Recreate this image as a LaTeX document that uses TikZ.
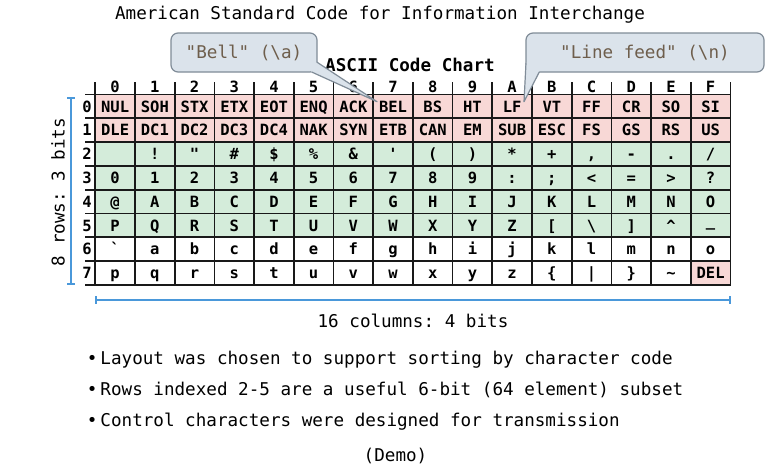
\documentclass[tikz,border=0pt]{standalone}
\usepackage{fontspec}
\setmonofont{DejaVu Sans Mono}
\usepackage{tikz}
\usetikzlibrary{arrows}
\usetikzlibrary{positioning}
\usetikzlibrary{calc}

\definecolor{ctrlpink}{RGB}{248,216,214}
\definecolor{printgreen}{RGB}{212,236,218}
\definecolor{calloutfill}{RGB}{219,227,235}
\definecolor{calloutline}{RGB}{128,140,152}
\definecolor{callouttext}{RGB}{110,94,76}
\definecolor{barblue}{RGB}{74,152,218}

\newcommand{\celltt}{\fontsize{15.5}{18}\selectfont\ttfamily\bfseries}
\newcommand{\bigtt}{\fontsize{17.6}{21}\selectfont\ttfamily}

\begin{document}
\begin{tikzpicture}
	[x=1pt,y=1pt,
	 cell/.style={rectangle,inner sep=0pt,outer sep=0pt,minimum width=39.7pt,minimum height=23.8pt,
	   text height=11.3pt,text depth=0pt,font=\celltt},
	 ctrl/.style={cell,fill=ctrlpink},
	 prnt/.style={cell,fill=printgreen},
	 plain/.style={cell},
	 idx/.style={inner sep=0pt,text height=11.3pt,text depth=0pt,font=\celltt},
	 grid/.style={line width=1.7pt,black!90,line cap=rect},
	 bar/.style={barblue,line width=1.2pt},
	 txt/.style={inner sep=0pt,font=\bigtt},
	 callbox/.style={rectangle,rounded corners=7pt,draw=calloutline,fill=calloutfill,line width=1.2pt,
	   outer sep=0pt,minimum width=146pt,minimum height=39pt,font=\bigtt,text=callouttext},
	 ptr/.style={fill=calloutfill},
	 ptrline/.style={draw=calloutline,line width=1.2pt,line join=round}]
	\useasboundingbox (0,0) rectangle (780,-469);
	\fill[white] (0,0) rectangle (780,-469);
	
	\node[txt,anchor=base] (title) at (380,-19.3) {American Standard Code for Information Interchange};
	\node[txt,anchor=base,font=\bigtt\bfseries] (chart) at (410,-71.7) {ASCII Code Chart};
	
	% column and row indices
	\foreach \t [count=\i from 0] in {0,1,2,3,4,5,6,7,8,9,A,B,C,D,E,F}
	\node[idx] (h\i) at ({115.15+39.7*\i},-87) {\t};
	\foreach \i in {0,...,7}
	\node[idx,anchor=east] (row\i) at (92,{-106.4-23.8*\i}) {\i};
	
	% the 128 codes
	\foreach \t [count=\i from 0] in {NUL,SOH,STX,ETX,EOT,ENQ,ACK,BEL,BS,HT,LF,VT,FF,CR,SO,SI}
	\node[ctrl] (r0c\i) at ({115.15+39.7*\i},-106.4) {\t};
	\foreach \t [count=\i from 0] in {DLE,DC1,DC2,DC3,DC4,NAK,SYN,ETB,CAN,EM,SUB,ESC,FS,GS,RS,US}
	\node[ctrl] (r1c\i) at ({115.15+39.7*\i},-130.2) {\t};
	\foreach \t [count=\i from 0] in {{},!,\textquotedbl,\#,\$,\%,\&,\textquotesingle,{(},{)},*,+,{,},-,.,/}
	\node[prnt] (r2c\i) at ({115.15+39.7*\i},-154.0) {\t};
	\foreach \t [count=\i from 0] in {0,1,2,3,4,5,6,7,8,9,:,;,<,=,>,?}
	\node[prnt] (r3c\i) at ({115.15+39.7*\i},-177.8) {\t};
	\foreach \t [count=\i from 0] in {@,A,B,C,D,E,F,G,H,I,J,K,L,M,N,O}
	\node[prnt] (r4c\i) at ({115.15+39.7*\i},-201.6) {\t};
	\foreach \t [count=\i from 0] in {P,Q,R,S,T,U,V,W,X,Y,Z,[,\textbackslash,],\textasciicircum,\raisebox{5pt}{\_}}
	\node[prnt] (r5c\i) at ({115.15+39.7*\i},-225.4) {\t};
	\foreach \t [count=\i from 0] in {\textasciigrave,a,b,c,d,e,f,g,h,i,j,k,l,m,n,o}
	\node[plain] (r6c\i) at ({115.15+39.7*\i},-249.2) {\t};
	\foreach \t [count=\i from 0] in {p,q,r,s,t,u,v,w,x,y,z,\{,|,\},\textasciitilde}
	\node[plain] (r7c\i) at ({115.15+39.7*\i},-273.0) {\t};
	\node[ctrl] (r7c15) at ({115.15+39.7*15},-273.0) {DEL};
	
	% grid
	\foreach \k in {0,...,16}
	\draw[grid] ({95.3+39.7*\k},-83) -- ({95.3+39.7*\k},-284.9);
	\foreach \k in {0,...,8}
	\draw[grid] (86,{-94.5-23.8*\k}) -- (730.5,{-94.5-23.8*\k});
	
	% sizes
	\draw[bar,|-|] (71,-97.3) -- (71,-284.5);
	\node[txt,rotate=90] (rows) at (58,-192) {8 rows: 3 bits};
	\draw[bar,|-|] (95.3,-300) -- (730.5,-300);
	\node[txt,anchor=base] (cols) at (413,-327.5) {16 columns: 4 bits};
	
	\node[txt,anchor=base west] (b1) at (86.7,-364.5) {\textbullet\hspace{3pt}Layout was chosen to support sorting by character code};
	\node[txt,anchor=base west] (b2) at (86.7,-395.5) {\textbullet\hspace{3pt}Rows indexed 2-5 are a useful 6-bit (64 element) subset};
	\node[txt,anchor=base west] (b3) at (86.7,-426.5) {\textbullet\hspace{3pt}Control characters were designed for transmission};
	\node[txt,anchor=base] (demo) at (395.5,-461) {(Demo)};
	
	% callouts
	\node[callbox] (bell) at (244,-52.5) {"Bell" (\textbackslash a)};
	\node[callbox,minimum width=238pt] (lf) at (645,-52.5) {"Line feed" (\textbackslash n)};
	\coordinate (belltip) at ($(r0c7.center)+(-16,4.7)$);
	\coordinate (lftip) at ($(r0c10.center)+(11.85,4.7)$);
	\fill[ptr] ($(bell.south east)+(-0.3,10)$) -- (belltip) -- ($(bell.south east)+(-5.3,0)$)
	  -- ($(bell.south east)+(-12,10)$) -- cycle;
	\draw[ptrline] ($(bell.south east)+(-0.3,10)$) -- (belltip) -- ($(bell.south east)+(-5.3,0)$);
	\fill[ptr] ($(lf.south west)+(0,9)$) -- (lftip) -- ($(lf.south west)+(13.3,0)$)
	  -- ($(lf.south west)+(10,10)$) -- cycle;
	\draw[ptrline] ($(lf.south west)+(0,9)$) -- (lftip) -- ($(lf.south west)+(13.3,0)$);
\end{tikzpicture}
\end{document}
